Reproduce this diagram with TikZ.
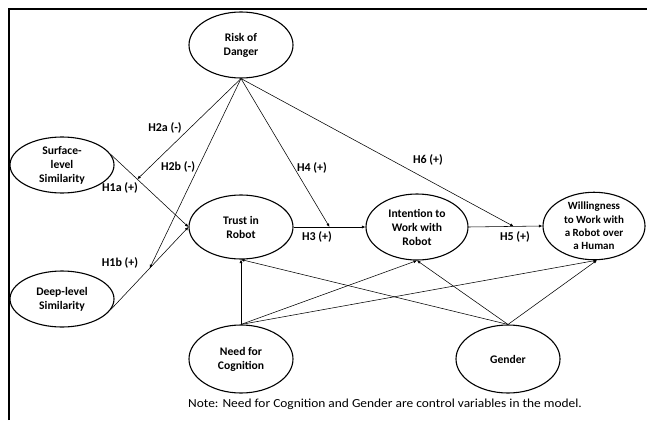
\documentclass[tikz,border=0pt]{standalone}
\usepackage{fontspec}
\setmainfont{Carlito}
\usetikzlibrary{arrows.meta,shapes.geometric}
\begin{document}
\begin{tikzpicture}[x=1pt,y=-1pt,
  var/.style={ellipse,draw,line width=1.1pt,inner sep=0pt,align=center,
     font=\bfseries\fontsize{11.6}{14}\selectfont},
  conn/.style={line width=0.55pt,-{Latex[length=3.5pt,width=3pt]}},
  hyp/.style={font=\bfseries\fontsize{12}{14}\selectfont,inner sep=0pt}]
\useasboundingbox (0,0) rectangle (647,420);
\draw[line width=1.5pt] (9,420) -- (9,9) -- (647,9);
\node[var,minimum width=104pt,minimum height=66pt] (rsk) at (241,45) {Risk of\\Danger};
\node[var,minimum width=104pt,minimum height=56pt] (sur) at (62,165) {Surface-\\level\\Similarity};
\node[var,minimum width=104pt,minimum height=64pt] (tru) at (241,227) {Trust in\\Robot};
\node[var,minimum width=104pt,minimum height=56pt] (dep) at (62,299) {Deep-level\\Similarity};
\node[var,minimum width=104pt,minimum height=68pt] (nfc) at (241,359) {Need for\\Cognition};
\node[var,minimum width=102pt,minimum height=66pt] (int) at (417,227) {Intention to\\Work with\\Robot};
\node[var,minimum width=102pt,minimum height=66pt,font=\bfseries\fontsize{11}{13.3}\selectfont] (wil) at (594,226) {Willingness\\to Work with\\a Robot over\\a Human};
\node[var,minimum width=104pt,minimum height=68pt] (gen) at (508,359) {Gender};
% main paths
\draw[conn] (sur.12) -- coordinate[pos=0.34] (m1) (tru.west);
\draw[conn] (dep.-12) -- coordinate[pos=0.5] (m2) (tru.west);
\draw[conn] (tru.east) -- coordinate[pos=0.5] (m3) (int.west);
\draw[conn] (int.east) -- coordinate[pos=0.61] (m4) (wil.west);
% moderators
\draw[conn] (rsk.south) -- (m1);
\draw[conn] (rsk.south) -- (m2);
\draw[conn] (rsk.south) -- (m3);
\draw[conn] (rsk.south) -- (m4);
% controls
\draw[conn] (nfc.north) -- (tru.south);
\draw[conn] (nfc.north) -- (int.south);
\draw[conn] (nfc.north) -- (wil.-85);
\draw[conn] (gen.north) -- (tru.south);
\draw[conn] (gen.north) -- (int.south);
\draw[conn] (gen.north) -- (wil.-85);
% labels
\node[hyp] (l2a) at (165,128) {H2a (-)};
\node[hyp] (l2b) at (178,167) {H2b (-)};
\node[hyp] (l1a) at (120,188) {H1a (+)};
\node[hyp] (l4) at (312,168) {H4 (+)};
\node[hyp] (l6) at (428,160) {H6 (+)};
\node[hyp] (l1b) at (120,263) {H1b (+)};
\node[hyp] (l3) at (317,237) {H3 (+)};
\node[hyp] (l5) at (515,237) {H5 (+)};
\node[font=\fontsize{12.3}{14}\selectfont,inner sep=0pt] (note) at (385,404) {\scalebox{1.09}[1]{Note: Need for Cognition and Gender are control variables in the model.}};
\end{tikzpicture}
\end{document}
